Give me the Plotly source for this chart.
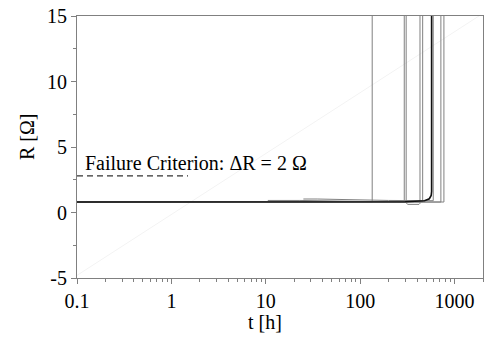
import plotly.graph_objects as go

# Resistance traces of the tested samples: time [h] and resistance [Ohm].
# A sample that opens jumps to an off-scale resistance at its failure time.
R_OPEN = 1000.0

s1_t = [0.1, 134, 134]
s1_R = [0.80, 0.80, R_OPEN]

s2_t = [0.1, 293, 293]
s2_R = [0.80, 0.82, R_OPEN]

s3_t = [10.5, 23, 100, 307, 307]
s3_R = [0.92, 0.92, 0.85, 0.82, R_OPEN]

s4_t = [0.1, 300, 320, 420, 430, 430]
s4_R = [0.80, 0.80, 0.62, 0.62, 0.70, R_OPEN]

s5_t = [0.1, 459, 459]
s5_R = [0.80, 0.82, R_OPEN]

s6_t = [25, 35, 200, 594, 594]
s6_R = [1.03, 1.03, 0.92, 0.90, R_OPEN]

s7_t = [0.1, 716, 716]
s7_R = [0.80, 0.80, R_OPEN]

s8_t = [0.1, 771, 771]
s8_R = [0.80, 0.80, R_OPEN]

# reference sample drawn in black
s9_t = [0.1, 300, 480, 540, 565, 571, 571]
s9_R = [0.80, 0.82, 0.90, 1.05, 1.30, 1.60, R_OPEN]

gray_samples = [(s1_t, s1_R), (s2_t, s2_R), (s3_t, s3_R), (s4_t, s4_R),
                (s5_t, s5_R), (s6_t, s6_R), (s7_t, s7_R), (s8_t, s8_R)]

# failure criterion: initial resistance + 2 Ohm
crit_t = [0.1, 1.5]
crit_R = [2.8, 2.8]

# faint guide line across the plot
guide_t = [0.1, 2000]
guide_R = [-4.8, 15.2]

x_tickvals = [0.1, 1, 10, 100, 1000]
x_ticktext = ["0.1", "1", "10", "100", "1000"]
y_tickvals = [-5, 0, 5, 10, 15]
y_ticktext = ["-5", "0", "5", "10", "15"]

FONT = "Liberation Serif"

fig = go.Figure()

fig.add_trace(go.Scatter(x=guide_t, y=guide_R, mode="lines",
                         line=dict(color="#f3f3f3", width=1), hoverinfo="skip"))

for t, r in gray_samples:
    fig.add_trace(go.Scatter(x=t, y=r, mode="lines",
                             line=dict(color="#808080", width=1)))

fig.add_trace(go.Scatter(x=s9_t, y=s9_R, mode="lines",
                         line=dict(color="#111111", width=1.6)))

fig.add_trace(go.Scatter(x=crit_t, y=crit_R, mode="lines",
                         line=dict(color="#333333", width=1.2, dash="6px,4px")))

fig.add_annotation(x=-0.935, y=3.75, xref="x", yref="y",
                   text="Failure Criterion: \u0394R = 2 \u03a9", showarrow=False,
                   xanchor="left", yanchor="middle",
                   font=dict(family=FONT, size=20, color="#000000"))

fig.add_annotation(x=0.463, y=-0.168, xref="paper", yref="paper",
                   text="t [h]", showarrow=False, xanchor="center", yanchor="middle",
                   font=dict(family=FONT, size=20, color="#000000"))

fig.add_annotation(x=-0.123, y=0.538, xref="paper", yref="paper",
                   text="R [\u03a9]", showarrow=False, textangle=-90,
                   xanchor="center", yanchor="middle",
                   font=dict(family=FONT, size=20, color="#000000"))

axis_common = dict(showline=True, linecolor="#808080", linewidth=1, mirror=True,
                   ticks="outside", ticklen=5, tickcolor="#808080",
                   showgrid=False, zeroline=False,
                   tickfont=dict(family=FONT, size=20, color="#000000"))

fig.update_xaxes(type="log", range=[-1, 3.301],
                 tickvals=x_tickvals, ticktext=x_ticktext,
                 minor=dict(ticks="outside", ticklen=3, tickcolor="#808080",
                            dtick="D1", showgrid=False),
                 **axis_common)
fig.update_yaxes(range=[-5, 15], tickvals=y_tickvals, ticktext=y_ticktext,
                 minor=dict(ticks="outside", ticklen=3, tickcolor="#808080",
                            dtick=2.5, showgrid=False),
                 **axis_common)

fig.update_layout(width=487, height=338,
                  margin=dict(l=77, r=4, t=16, b=60),
                  paper_bgcolor="white", plot_bgcolor="white",
                  showlegend=False, font=dict(family=FONT))

fig.write_html("out.html")
